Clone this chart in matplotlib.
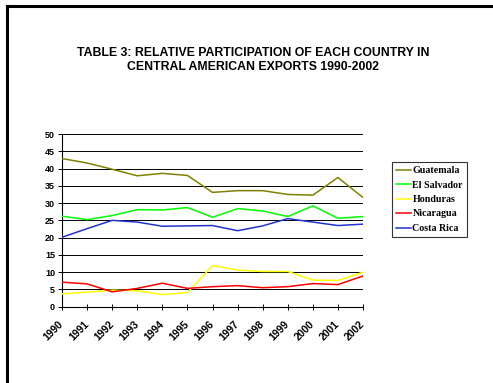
import numpy as np
import matplotlib
matplotlib.use("Agg")
import matplotlib.pyplot as plt
from matplotlib.lines import Line2D

years = list(range(1990, 2003))
guatemala = [42.9, 41.6, 39.8, 37.9, 38.6, 38.0, 33.1, 33.6, 33.6, 32.5, 32.3, 37.4, 31.6]
el_salvador = [26.2, 25.2, 26.4, 28.1, 28.0, 28.7, 25.9, 28.4, 27.7, 26.1, 29.2, 25.6, 26.1]
honduras = [3.7, 4.2, 4.8, 4.6, 3.5, 4.1, 11.9, 10.6, 10.2, 10.2, 7.7, 7.6, 10.0]
nicaragua = [7.1, 6.6, 4.3, 5.3, 6.8, 5.3, 5.8, 6.1, 5.5, 5.8, 6.7, 6.4, 8.9]
costa_rica = [20.1, 22.6, 25.0, 24.5, 23.3, 23.4, 23.5, 22.0, 23.4, 25.5, 24.5, 23.5, 23.9]

series = [
    ("Guatemala", guatemala, "#808000"),
    ("El Salvador", el_salvador, "#00ff00"),
    ("Honduras", honduras, "#ffff00"),
    ("Nicaragua", nicaragua, "#ff0000"),
    ("Costa Rica", costa_rica, "#2233cc"),
]

fig = plt.figure(figsize=(4.93, 3.83), dpi=100)
ax = fig.add_axes([62/493, 1-306.7/383, (363-62)/493, (306.7-134)/383])

x = np.arange(len(years))
for name, vals, col in series:
    ax.plot(x, vals, color=col, lw=1.1, label=name, zorder=3)

ax.set_xlim(0, len(years)-1)
ax.set_ylim(0, 50)
ax.set_yticks(range(0, 51, 5))
ax.set_xticks(x)
ax.set_xticklabels([str(y) for y in years], rotation=45, ha="right", va="center",
                   rotation_mode="anchor", fontsize=7.5, fontweight="bold",
                   family="Liberation Sans")
for lab in ax.get_yticklabels():
    lab.set_fontsize(6.5)
    lab.set_fontweight("bold")
    lab.set_family("Liberation Sans")
ax.grid(axis="y", color="black", lw=0.7)
ax.tick_params(axis="y", direction="out", length=3, width=0.7, pad=2)
ax.tick_params(axis="x", direction="inout", length=5, width=0.7, pad=9)
for s in ["top", "right"]:
    ax.spines[s].set_visible(False)
for s in ["left", "bottom"]:
    ax.spines[s].set_linewidth(0.8)

leg = ax.legend(loc="upper left", bbox_to_anchor=(392/493, 1-162/383),
                bbox_transform=fig.transFigure, frameon=True, fancybox=False,
                handlelength=1.5, handletextpad=0.15, borderpad=0.4,
                labelspacing=0.55, borderaxespad=0,
                prop={"family": "Liberation Serif", "weight": "bold", "size": 7.2})
leg.get_frame().set_edgecolor("black")
leg.get_frame().set_linewidth(0.8)

fig.text(253/493, 1-52.5/383, "TABLE 3: RELATIVE PARTICIPATION OF EACH COUNTRY IN",
         ha="center", va="center", fontsize=8.8, fontweight="bold",
         family="Liberation Sans")
fig.text(253/493, 1-66.5/383, "CENTRAL AMERICAN EXPORTS 1990-2002",
         ha="center", va="center", fontsize=8.8, fontweight="bold",
         family="Liberation Sans")

# outer frame: top and left edges only
fig.add_artist(Line2D([6.5/493, 1], [1-6/383, 1-6/383], color="black", lw=2.2,
                      transform=fig.transFigure))
fig.add_artist(Line2D([6.5/493, 6.5/493], [0, 1-6/383], color="black", lw=2.2,
                      transform=fig.transFigure))

fig.savefig("out.png", dpi=100)
